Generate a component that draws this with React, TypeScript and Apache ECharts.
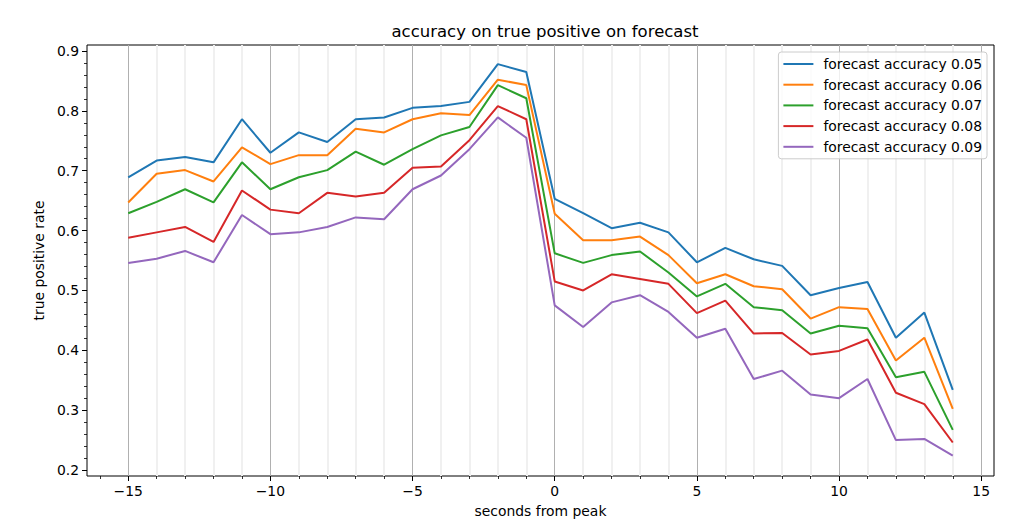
import React, { useEffect, useRef } from "react";
import * as echarts from "echarts";

const seconds = [-15, -14, -13, -12, -11, -10, -9, -8, -7, -6, -5, -4, -3, -2, -1, 0, 1, 2, 3, 4, 5, 6, 7, 8, 9, 10, 11, 12, 13, 14];

const acc005 = [0.689, 0.717, 0.723, 0.714, 0.786, 0.730, 0.764, 0.748, 0.786, 0.789, 0.805, 0.808, 0.815, 0.878, 0.865, 0.653, 0.629, 0.604, 0.613, 0.597, 0.547, 0.571, 0.552, 0.541, 0.492, 0.504, 0.514, 0.421, 0.463, 0.334];
const acc006 = [0.647, 0.695, 0.701, 0.682, 0.739, 0.711, 0.726, 0.726, 0.770, 0.764, 0.786, 0.796, 0.793, 0.852, 0.843, 0.628, 0.584, 0.584, 0.590, 0.559, 0.512, 0.527, 0.507, 0.502, 0.453, 0.472, 0.469, 0.383, 0.421, 0.302];
const acc007 = [0.629, 0.648, 0.669, 0.647, 0.714, 0.669, 0.689, 0.701, 0.732, 0.710, 0.736, 0.759, 0.773, 0.843, 0.821, 0.562, 0.546, 0.559, 0.565, 0.530, 0.490, 0.511, 0.472, 0.467, 0.428, 0.441, 0.437, 0.355, 0.364, 0.267];
const acc008 = [0.588, 0.597, 0.606, 0.581, 0.667, 0.635, 0.629, 0.663, 0.657, 0.663, 0.705, 0.707, 0.751, 0.808, 0.786, 0.515, 0.500, 0.527, 0.519, 0.511, 0.462, 0.483, 0.428, 0.429, 0.393, 0.399, 0.418, 0.329, 0.310, 0.246];
const acc009 = [0.546, 0.553, 0.566, 0.547, 0.626, 0.594, 0.597, 0.606, 0.622, 0.619, 0.669, 0.692, 0.736, 0.789, 0.755, 0.475, 0.439, 0.480, 0.492, 0.464, 0.421, 0.436, 0.352, 0.366, 0.326, 0.320, 0.352, 0.250, 0.252, 0.224];

const seriesNames = [
  "forecast accuracy 0.05",
  "forecast accuracy 0.06",
  "forecast accuracy 0.07",
  "forecast accuracy 0.08",
  "forecast accuracy 0.09",
];
const seriesValues = [acc005, acc006, acc007, acc008, acc009];
const colors = ["#1f77b4", "#ff7f0e", "#2ca02c", "#d62728", "#9467bd"];

const xMajorTicks = [-15, -10, -5, 0, 5, 10, 15];
const xMinorTicks = [-16, -15, -14, -13, -12, -11, -10, -9, -8, -7, -6, -5, -4, -3, -2, -1, 0, 1, 2, 3, 4, 5, 6, 7, 8, 9, 10, 11, 12, 13, 14, 15];
const yMajorTicks = [0.2, 0.3, 0.4, 0.5, 0.6, 0.7, 0.8, 0.9];
const yMinorTicks: number[] = [];
for (let i = 0; i <= 35; i++) yMinorTicks.push(Math.round((0.2 + i * 0.02) * 1000) / 1000);

const X_MIN = -16.45;
const X_MAX = 15.45;
const Y_MIN = 0.19;
const Y_MAX = 0.91;

const FONT = "DejaVu Sans";

export default function App() {
  const ref = useRef<HTMLDivElement>(null);
  useEffect(() => {
    if (!ref.current) return;
    const chart = echarts.init(ref.current, undefined, { renderer: "svg" });
    const minorGrid = xMinorTicks
      .filter((v) => v >= -15 && v <= 15 && xMajorTicks.indexOf(v) < 0)
      .map((v) => ({ xAxis: v, lineStyle: { color: "#f0f0f0", width: 2, type: "solid" } }));
    const majorGrid = xMajorTicks.map((v) => ({
      xAxis: v,
      lineStyle: { color: "#b0b0b0", width: 1, type: "solid" },
    }));
    const option: any = {
      animation: false,
      backgroundColor: "#fff",
      title: {
        text: "accuracy on true positive on forecast",
        left: 540,
        top: 18,
        textAlign: "center",
        textStyle: { fontFamily: FONT, fontSize: 16.5, fontWeight: "normal", color: "#000" },
      },
      grid: {
        left: 87,
        right: 36,
        top: 45,
        bottom: 53,
        show: true,
        borderColor: "#000",
        borderWidth: 1,
        backgroundColor: "transparent",
      },
      legend: {
        data: seriesNames,
        orient: "vertical",
        right: 43,
        top: 52,
        z: 100,
        itemWidth: 30,
        itemHeight: 2,
        icon: "rect",
        itemGap: 6.7,
        padding: [5, 5, 5, 5],
        borderColor: "#cccccc",
        borderWidth: 1,
        borderRadius: 3,
        backgroundColor: "rgba(255,255,255,0.8)",
        textStyle: { fontFamily: FONT, fontSize: 13.9, color: "#000", lineHeight: 14, padding: [0, 0, 0, 5] },
      },
      xAxis: [
        {
          type: "value",
          min: X_MIN,
          max: X_MAX,
          axisLine: { show: false, onZero: false },
          splitLine: { show: false },
          axisTick: { show: true, customValues: xMajorTicks, length: 5, lineStyle: { color: "#000", width: 1 } },
          axisLabel: {
            customValues: xMajorTicks,
            formatter: (v: number) => String(v).replace("-", "\u2212"),
            color: "#000",
            fontFamily: FONT,
            fontSize: 13.9,
            margin: 8,
          },
          name: "seconds from peak",
          nameLocation: "middle",
          nameGap: 28,
          nameTextStyle: { fontFamily: FONT, fontSize: 13.9, color: "#000" },
        },
        {
          type: "value",
          min: X_MIN,
          max: X_MAX,
          position: "bottom",
          axisLine: { show: false, onZero: false },
          splitLine: { show: false },
          axisTick: { show: true, customValues: xMinorTicks, length: 3, lineStyle: { color: "#000", width: 0.8 } },
          axisLabel: { show: false },
        },
      ],
      yAxis: [
        {
          type: "value",
          min: Y_MIN,
          max: Y_MAX,
          axisLine: { show: false, onZero: false },
          splitLine: { show: false },
          axisTick: { show: true, customValues: yMajorTicks, length: 5, lineStyle: { color: "#000", width: 1 } },
          axisLabel: {
            customValues: yMajorTicks,
            formatter: (v: number) => v.toFixed(1),
            color: "#000",
            fontFamily: FONT,
            fontSize: 13.9,
            margin: 8,
          },
          name: "true positive rate",
          nameLocation: "middle",
          nameGap: 38,
          nameRotate: 90,
          nameTextStyle: { fontFamily: FONT, fontSize: 13.9, color: "#000" },
        },
        {
          type: "value",
          min: Y_MIN,
          max: Y_MAX,
          position: "left",
          axisLine: { show: false, onZero: false },
          splitLine: { show: false },
          axisTick: { show: true, customValues: yMinorTicks, length: 3, lineStyle: { color: "#000", width: 0.8 } },
          axisLabel: { show: false },
        },
      ],
      series: [
        {
          name: "__grid",
          type: "line",
          data: [],
          silent: true,
          z: 0,
          markLine: {
            silent: true,
            symbol: "none",
            z: 0,
            label: { show: false },
            animation: false,
            data: [...minorGrid, ...majorGrid],
          },
        },
        ...seriesNames.map((name, i) => ({
          name,
          type: "line",
          data: seconds.map((s, j) => [s, seriesValues[i][j]]),
          showSymbol: false,
          symbol: "none",
          z: 3,
          lineStyle: { color: colors[i], width: 2 },
          itemStyle: { color: colors[i] },
        })),
      ],
    };
    chart.setOption(option);
    return () => chart.dispose();
  }, []);
  return <div ref={ref} style={{ width: 1030, height: 529, position: "absolute", left: 0, top: 0 }} />;
}
